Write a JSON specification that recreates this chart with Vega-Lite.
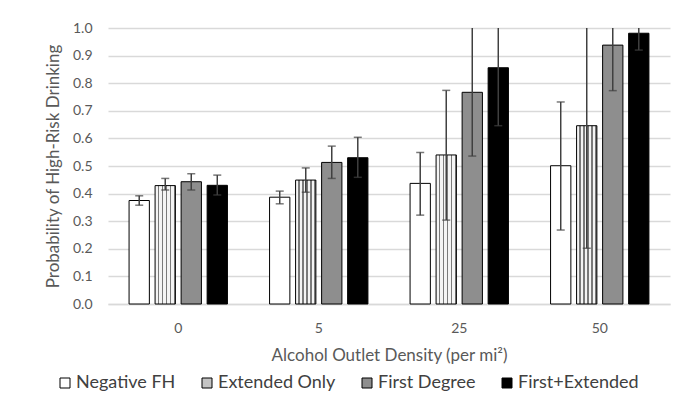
{
  "$schema": "https://vega.github.io/schema/vega-lite/v6.json",
  "width": 562,
  "height": 276,
  "autosize": {"type": "none"},
  "padding": {"left": 108, "top": 28, "right": 21, "bottom": 110},
  "background": "white",
  "config": {
    "view": {"stroke": null},
    "font": "Lato",
    "axis": {"labelColor": "#595959", "titleColor": "#595959", "titleFontWeight": "normal", "labelFont": "Lato", "titleFont": "Lato"}
  },
  "data": {
    "values": [
      {"density": "0", "series": "Negative FH", "p": 0.375, "lo": 0.358, "hi": 0.392},
      {"density": "0", "series": "Extended Only", "p": 0.429, "lo": 0.413, "hi": 0.455},
      {"density": "0", "series": "First Degree", "p": 0.443, "lo": 0.413, "hi": 0.472},
      {"density": "0", "series": "First+Extended", "p": 0.43, "lo": 0.395, "hi": 0.467},
      {"density": "5", "series": "Negative FH", "p": 0.387, "lo": 0.363, "hi": 0.409},
      {"density": "5", "series": "Extended Only", "p": 0.449, "lo": 0.405, "hi": 0.493},
      {"density": "5", "series": "First Degree", "p": 0.513, "lo": 0.455, "hi": 0.572},
      {"density": "5", "series": "First+Extended", "p": 0.53, "lo": 0.459, "hi": 0.604},
      {"density": "25", "series": "Negative FH", "p": 0.437, "lo": 0.322, "hi": 0.549},
      {"density": "25", "series": "Extended Only", "p": 0.54, "lo": 0.304, "hi": 0.774},
      {"density": "25", "series": "First Degree", "p": 0.767, "lo": 0.536, "hi": 1.005},
      {"density": "25", "series": "First+Extended", "p": 0.856, "lo": 0.646, "hi": 1.066},
      {"density": "50", "series": "Negative FH", "p": 0.501, "lo": 0.268, "hi": 0.732},
      {"density": "50", "series": "Extended Only", "p": 0.646, "lo": 0.202, "hi": 1.09},
      {"density": "50", "series": "First Degree", "p": 0.938, "lo": 0.773, "hi": 1.103},
      {"density": "50", "series": "First+Extended", "p": 0.981, "lo": 0.92, "hi": 1.04}
    ]
  },
  "encoding": {
    "x": {
      "field": "density", "type": "nominal", "sort": ["0", "5", "25", "50"],
      "scale": {"paddingInner": 0.3, "paddingOuter": 0.15},
      "axis": {"labelAngle": 0, "ticks": false, "domain": true, "domainColor": "#d9d9d9", "domainWidth": 1.3, "labelPadding": 17, "labelFontSize": 14, "title": "Alcohol Outlet Density (per mi²)", "titleFontSize": 17, "titlePadding": 12}
    },
    "xOffset": {
      "field": "series", "type": "nominal",
      "sort": ["Negative FH", "Extended Only", "First Degree", "First+Extended"],
      "scale": {"paddingInner": 0.22, "paddingOuter": 0}
    }
  },
  "layer": [
    {
      "mark": {"type": "bar", "stroke": "black", "strokeWidth": 1},
      "encoding": {
        "y": {
          "field": "p", "type": "quantitative",
          "scale": {"domain": [0, 1], "nice": false},
          "axis": {"values": [0, 0.1, 0.2, 0.3, 0.4, 0.5, 0.6, 0.7, 0.8, 0.9, 1.0], "tickCount": 11, "labelOverlap": false, "labelFlush": false, "format": ".1f", "grid": true, "gridColor": "#d9d9d9", "gridWidth": 1.3, "domain": false, "ticks": false, "labelPadding": 16, "labelFontSize": 14, "title": "Probability of High-Risk Drinking", "titleFontSize": 17, "titlePadding": 10}
        },
        "fill": {
          "condition": {
            "test": "datum.series === 'Extended Only'",
            "value": {"gradient": "linear", "x1": 0, "y1": 0, "x2": 1, "y2": 0, "stops": [
                {"offset": 0, "color": "#f4f4f4"}, {"offset": 0.12, "color": "#f4f4f4"}, {"offset": 0.12, "color": "#7a7a7a"}, {"offset": 0.2, "color": "#7a7a7a"},
                {"offset": 0.2, "color": "#f4f4f4"}, {"offset": 0.32, "color": "#f4f4f4"}, {"offset": 0.32, "color": "#7a7a7a"}, {"offset": 0.4, "color": "#7a7a7a"},
                {"offset": 0.4, "color": "#f4f4f4"}, {"offset": 0.52, "color": "#f4f4f4"}, {"offset": 0.52, "color": "#7a7a7a"}, {"offset": 0.6, "color": "#7a7a7a"},
                {"offset": 0.6, "color": "#f4f4f4"}, {"offset": 0.72, "color": "#f4f4f4"}, {"offset": 0.72, "color": "#7a7a7a"}, {"offset": 0.8, "color": "#7a7a7a"},
                {"offset": 0.8, "color": "#f4f4f4"}, {"offset": 0.92, "color": "#f4f4f4"}, {"offset": 0.92, "color": "#7a7a7a"}, {"offset": 1, "color": "#7a7a7a"}
            ]}
          },
          "field": "series", "type": "nominal",
          "scale": {
            "domain": ["Negative FH", "Extended Only", "First Degree", "First+Extended"],
            "range": ["white", "#c4c4c4", "#8e8e8e", "black"]
          },
          "legend": {
            "title": null, "orient": "none", "legendX": -52, "legendY": 346, "direction": "horizontal",
            "symbolType": "square", "symbolSize": 100, "symbolStrokeColor": "black", "symbolStrokeWidth": 1,
            "labelFontSize": 18, "labelColor": "#404040", "labelFont": "Lato", "labelOffset": 2, "columnPadding": 22
          }
        }
      }
    },
    {
      "mark": {"type": "rule", "color": "#404040", "strokeWidth": 1.5, "clip": true},
      "encoding": {
        "y": {"field": "lo", "type": "quantitative",
          "axis": {"values": [0, 0.1, 0.2, 0.3, 0.4, 0.5, 0.6, 0.7, 0.8, 0.9, 1.0], "tickCount": 11, "labelOverlap": false, "labelFlush": false, "format": ".1f", "grid": true, "gridColor": "#d9d9d9", "gridWidth": 1.3, "domain": false, "ticks": false, "labelPadding": 16, "labelFontSize": 14, "title": "Probability of High-Risk Drinking", "titleFontSize": 17, "titlePadding": 10}},
        "y2": {"field": "hi"}
      }
    },
    {
      "mark": {"type": "tick", "color": "#404040", "thickness": 1.5, "size": 8, "clip": true, "orient": "horizontal"},
      "encoding": {"y": {"field": "lo", "type": "quantitative",
          "axis": {"values": [0, 0.1, 0.2, 0.3, 0.4, 0.5, 0.6, 0.7, 0.8, 0.9, 1.0], "tickCount": 11, "labelOverlap": false, "labelFlush": false, "format": ".1f", "grid": true, "gridColor": "#d9d9d9", "gridWidth": 1.3, "domain": false, "ticks": false, "labelPadding": 16, "labelFontSize": 14, "title": "Probability of High-Risk Drinking", "titleFontSize": 17, "titlePadding": 10}}}
    },
    {
      "mark": {"type": "tick", "color": "#404040", "thickness": 1.5, "size": 8, "clip": true, "orient": "horizontal"},
      "encoding": {"y": {"field": "hi", "type": "quantitative",
          "axis": {"values": [0, 0.1, 0.2, 0.3, 0.4, 0.5, 0.6, 0.7, 0.8, 0.9, 1.0], "tickCount": 11, "labelOverlap": false, "labelFlush": false, "format": ".1f", "grid": true, "gridColor": "#d9d9d9", "gridWidth": 1.3, "domain": false, "ticks": false, "labelPadding": 16, "labelFontSize": 14, "title": "Probability of High-Risk Drinking", "titleFontSize": 17, "titlePadding": 10}}}
    }
  ]
}
